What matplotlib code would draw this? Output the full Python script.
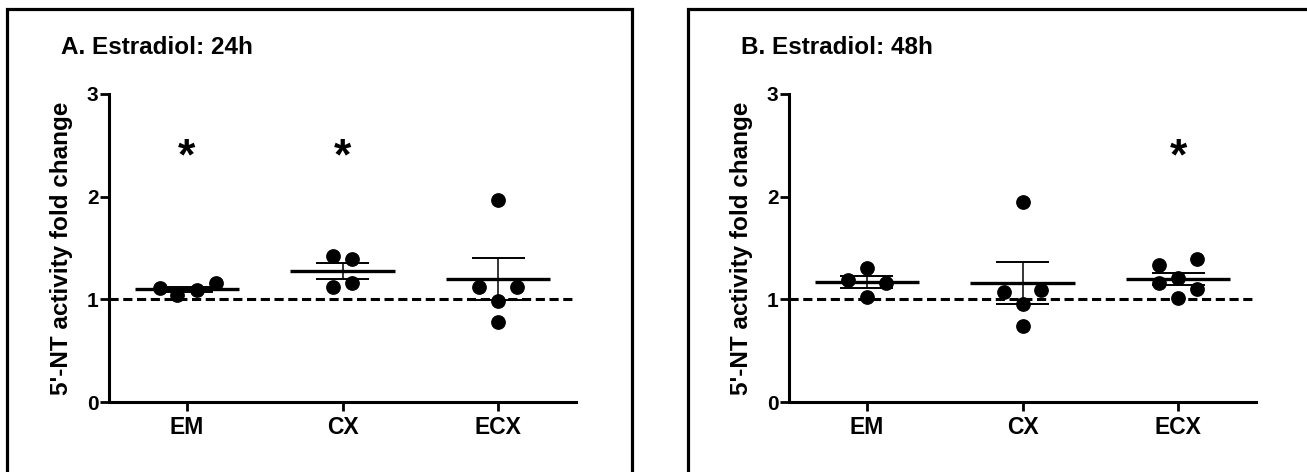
import numpy as np
import matplotlib.pyplot as plt
from matplotlib.patches import Rectangle

plt.rcParams['font.family'] = ['Liberation Sans', 'DejaVu Sans']
plt.rcParams['font.weight'] = 'bold'

groups = ["EM", "CX", "ECX"]

# fold change of 5'-NT activity, one value per sample
em_24 = [1.11, 1.04, 1.09, 1.16]
cx_24 = [1.42, 1.39, 1.12, 1.16]
ecx_24 = [1.97, 1.12, 1.12, 0.98, 0.78]

em_48 = [1.19, 1.31, 1.16, 1.02]
cx_48 = [1.07, 1.95, 1.09, 0.95, 0.74]
ecx_48 = [1.33, 1.39, 1.16, 1.21, 1.10, 1.01]

# groups marked significant (*)
sig_24 = [True, True, False]
sig_48 = [False, False, True]
star_y = 2.38

# horizontal spread of the dots inside a group
off_em_24 = [-0.17, -0.065, 0.065, 0.185]
off_cx_24 = [-0.06, 0.06, -0.06, 0.06]
off_ecx_24 = [0, -0.12, 0.12, 0, 0]
off_em_48 = [-0.12, 0, 0.12, 0]
off_cx_48 = [-0.12, 0, 0.12, 0, 0]
off_ecx_48 = [-0.12, 0.12, -0.12, 0, 0.12, 0]

W, H = 1307, 472
fig = plt.figure(figsize=(W / 100, H / 100), dpi=100)


def panel(x0, title, data, offs, sig):
    ax = fig.add_axes([x0 / W, 70 / H, 467 / W, 308 / H])
    ax.axhline(1, color='black', lw=2.2, dashes=(3.0, 1.5), zorder=2)
    for i, (vals, off) in enumerate(zip(data, offs)):
        pos = i + 1
        vals = np.array(vals)
        m = vals.mean()
        sem = vals.std(ddof=1) / np.sqrt(len(vals))
        ax.plot(pos + np.array(off), vals, 'o', ms=9.6, color='black',
                mec='black', zorder=3)
        ax.hlines(m, pos - 0.335, pos + 0.335, color='black', lw=2.4, zorder=4)
        ax.vlines(pos, m - sem, m + sem, color='black', lw=1.1, zorder=4)
        ax.hlines([m - sem, m + sem], pos - 0.17, pos + 0.17, color='black',
                  lw=1.4, zorder=4)
        if sig[i]:
            ax.text(pos, star_y, '*', ha='center', va='center', fontsize=32,
                    fontweight='bold')
    ax.set_xlim(0.5, 3.5)
    ax.set_ylim(0, 3)
    ax.set_xticks([1, 2, 3])
    ax.set_xticklabels(groups, fontsize=16.5, fontweight='bold')
    ax.set_yticks([0, 1, 2, 3])
    ax.set_yticklabels(['0', '1', '2', '3'], fontsize=15, fontweight='bold')
    ax.tick_params(axis='y', length=6.5, width=2, pad=1)
    ax.tick_params(axis='x', length=6.5, width=2, pad=3.5)
    for s in ['top', 'right']:
        ax.spines[s].set_visible(False)
    for s in ['left', 'bottom']:
        ax.spines[s].set_linewidth(2.2)
    ax.set_ylabel("5'-NT activity fold change", fontsize=17.5, fontweight='bold')
    ax.yaxis.set_label_coords(-0.078, 0.5)
    fig.text((x0 - 48) / W, 1 - 47 / H, title, fontsize=17.5, fontweight='bold',
             va='center', ha='left')
    return ax


panel(109, "A. Estradiol: 24h", [em_24, cx_24, ecx_24],
      [off_em_24, off_cx_24, off_ecx_24], sig_24)
panel(789, "B. Estradiol: 48h", [em_48, cx_48, ecx_48],
      [off_em_48, off_cx_48, off_ecx_48], sig_48)

# boxes around each panel
for left, right in [(7, 632), (688, 1320)]:
    fig.add_artist(Rectangle((left / W, -0.1), (right - left) / W,
                             1.1 - 9.5 / H, transform=fig.transFigure,
                             fill=False, lw=2.3, ec='black'))

fig.savefig('out.png', dpi=100)
